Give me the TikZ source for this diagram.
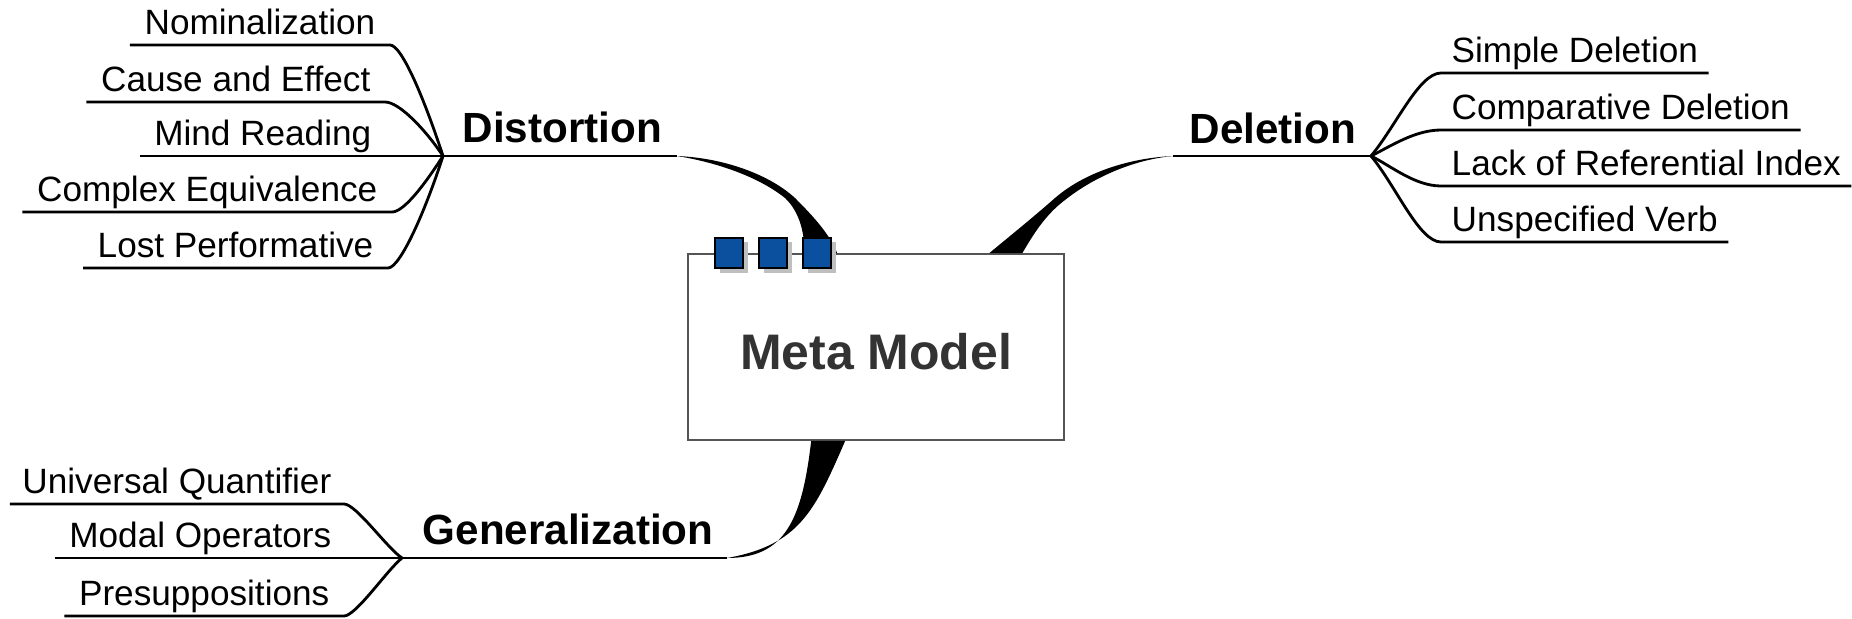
\documentclass[tikz,border=0pt]{standalone}
\usepackage{fontspec}
\setmainfont{Liberation Sans}
\usetikzlibrary{shadows}
\definecolor{tabblue}{HTML}{0B4F9F}
\definecolor{metagray}{HTML}{333333}
\definecolor{boxgray}{HTML}{555555}
\begin{document}
\begin{tikzpicture}[x=0.01cm,y=-0.01cm,
                    leaf/.style={font=\fontsize{10pt}{12pt}\selectfont,text depth=0pt,inner xsep=0.14cm,inner ysep=0.1cm},
                    topic/.style={font=\fontsize{12pt}{14pt}\selectfont\bfseries,inner sep=0pt},
                    branch/.style={thick,line join=round},
                    band/.style={fill=black},
                    root node/.style={draw=boxgray,line width=0.45pt,fill=white,minimum width=3.76cm,minimum height=1.86cm,
                                      text height=0.45cm,font=\fontsize{14.2pt}{17pt}\selectfont\bfseries,text=metagray},
                    tab/.style={draw=black,line width=0.5pt,fill=tabblue,minimum width=0.28cm,minimum height=0.30cm,inner sep=0pt,
                                drop shadow={shadow xshift=0.045cm,shadow yshift=-0.045cm,fill=black!25,opacity=1}}
                   ]
  \useasboundingbox (0,0) rectangle (1852,618);
  \node[root node] (meta) at (876,347) {Meta Model};
  % topics
  \coordinate (disthub) at (443,156);
  \coordinate (distend) at (677,156);
  \coordinate (delend) at (1173,156);
  \coordinate (delhub) at (1371,156);
  \coordinate (genhub) at (402,558);
  \coordinate (genend) at (727,558);
  \node[topic,anchor=base west] (dist) at (462,142) {Distortion};
  \node[topic,anchor=base west] (del) at (1189,143) {Deletion};
  \node[topic,anchor=base west] (gen) at (422,544) {Generalization};
  % leaves
  \node[leaf,anchor=south east] (nom) at (390,45) {Nominalization};
  \node[leaf,anchor=south east] (cause) at (385,102) {Cause and Effect};
  \node[leaf,anchor=south east] (mind) at (386,156) {Mind Reading};
  \node[leaf,anchor=south east] (cplx) at (392,212) {Complex Equivalence};
  \node[leaf,anchor=south east] (lost) at (388,268) {Lost Performative};
  \node[leaf,inner xsep=0.1cm,anchor=south west] (simple) at (1441,73) {Simple Deletion};
  \node[leaf,inner xsep=0.1cm,anchor=south west] (compar) at (1441,130) {Comparative Deletion};
  \node[leaf,inner xsep=0.1cm,anchor=south west] (refidx) at (1441,186) {Lack of Referential Index};
  \node[leaf,inner xsep=0.1cm,anchor=south west] (verb) at (1441,242) {Unspecified Verb};
  \node[leaf,inner xsep=0.12cm,anchor=south east] (univ) at (344,504) {Universal Quantifier};
  \node[leaf,anchor=south east] (modal) at (346,558) {Modal Operators};
  \node[leaf,anchor=south east] (presup) at (344,616) {Presuppositions};
  % branches
  \draw[branch] (nom.south west) -- (nom.south east) .. controls +(12,0) and +(-18,-55) .. (disthub);
  \draw[branch] (cause.south west) -- (cause.south east) .. controls +(14,0) and +(-18,-27) .. (disthub);
  \draw[branch] (mind.south west) -- (disthub) -- (distend);
  \draw[branch] (cplx.south west) -- (cplx.south east) .. controls +(12,0) and +(-18,28) .. (disthub);
  \draw[branch] (lost.south west) -- (lost.south east) .. controls +(12,0) and +(-18,56) .. (disthub);
  \draw[branch] (delend) -- (delhub);
  \draw[branch] (delhub) .. controls +(25,-30) and +(-22,0) .. (simple.south west) -- (simple.south east);
  \draw[branch] (delhub) .. controls +(20,-10) and +(-26,0) .. (compar.south west) -- (compar.south east);
  \draw[branch] (delhub) .. controls +(20,10) and +(-26,0) .. (refidx.south west) -- (refidx.south east);
  \draw[branch] (delhub) .. controls +(25,30) and +(-22,0) .. (verb.south west) -- (verb.south east);
  \draw[branch] (univ.south west) -- (univ.south east) .. controls +(12,0) and +(-15,-10) .. (genhub);
  \draw[branch] (modal.south west) -- (genhub) -- (genend);
  \draw[branch] (presup.south west) -- (presup.south east) .. controls +(12,0) and +(-15,12) .. (genhub);
  % tapered links to the box
  \coordinate (disttop1) at ([xshift=1.17cm]meta.north west);
  \coordinate (disttop2) at ([xshift=1.50cm]meta.north west);
  \coordinate (deltop1) at ([xshift=3.02cm]meta.north west);
  \coordinate (deltop2) at ([xshift=3.35cm]meta.north west);
  \coordinate (genbot1) at ([xshift=1.24cm]meta.south west);
  \coordinate (genbot2) at ([xshift=1.58cm]meta.south west);
  \fill[band] (distend) .. controls (725,158) and (770,175) .. (795,198) .. controls (815,218) and (830,235) .. (disttop2)
    -- (disttop1) .. controls (805,235) and (800,212) .. (785,198) .. controls (760,178) and (720,163) .. (distend);
  \fill[band] (delend) .. controls (1130,158) and (1085,172) .. (1055,198) .. controls (1030,220) and (1005,240) .. (deltop1)
    -- (deltop2) .. controls (1033,235) and (1045,215) .. (1065,200) .. controls (1090,180) and (1130,160) .. (delend);
  \fill[band] (genend) .. controls (785,558) and (802,520) .. (genbot1) -- (genbot2) .. controls (815,510) and (800,545) .. (genend);
  % tabs
  \foreach \x/\n in {729/1,773/2,817/3}
    \node[tab] (tab\n) at (\x,253) {};
\end{tikzpicture}
\end{document}
